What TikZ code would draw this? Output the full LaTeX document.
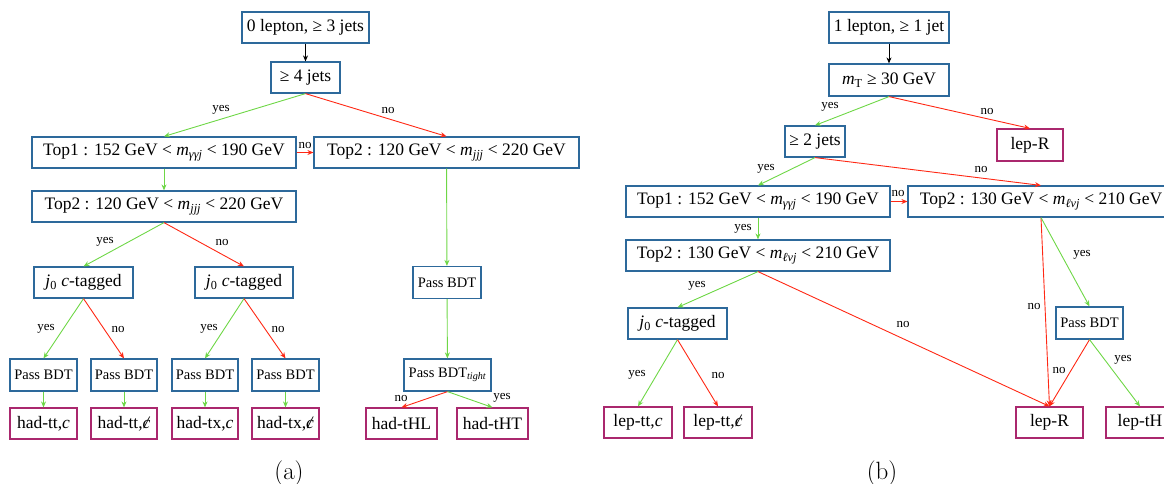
\documentclass[tikz,border=0pt]{standalone}
\usepackage{fontspec}
\usetikzlibrary{arrows.meta}
\newfontfamily\tnr{Liberation Serif}
\definecolor{boxblue}{RGB}{45,105,155}
\definecolor{finmag}{RGB}{170,40,110}
\definecolor{arrgreen}{RGB}{110,215,70}
\definecolor{arrred}{RGB}{255,40,20}
\newcommand\myCslash{\ooalign{\itshape c\cr\hidewidth\itshape /\hidewidth\cr}}
\tikzset{
  box/.style={draw=boxblue, line width=1.2pt, fill=white, inner sep=0pt,
    minimum height=31pt, text=black, font=\tnr\fontsize{17.5}{20}\selectfont},
  bdt/.style={box, minimum height=32pt, font=\tnr\fontsize{14.5}{17}\selectfont},
  fin/.style={box, draw=finmag},
  lbl/.style={inner sep=0pt, text=black, font=\tnr\fontsize{13}{15}\selectfont},
  captext/.style={inner sep=0pt, font=\fontsize{25}{29}\selectfont},
  arrtip/.style={-{Stealth[length=6pt,width=5pt]}},
  ya/.style={draw=arrgreen, line width=0.9pt, arrtip},
  na/.style={draw=arrred, line width=0.9pt, arrtip},
  ba/.style={draw=black, line width=0.9pt, arrtip}
}
\begin{document}
\begin{tikzpicture}[x=1pt,y=-1pt]
\useasboundingbox (0,0) rectangle (1164,483);
\clip (0,0) rectangle (1164,483);
% ---------------- panel (a) ----------------
\node[box, minimum width=127pt] (a0) at (305.5,27.5) {0 lepton, ≥ 3 jets};
\node[box, minimum width=69pt] (a1) at (305.5,77.5) {≥ 4 jets};
\node[box, minimum width=264pt] (a2) at (164,152.5) {Top1 : 152 GeV < {\itshape m}\textsubscript{\itshape γγj} < 190 GeV};
\node[box, minimum width=265pt] (a3) at (446.5,152.5) {Top2 : 120 GeV < {\itshape m}\textsubscript{\itshape jjj} < 220 GeV};
\node[box, minimum width=264pt] (a4) at (164,206.5) {Top2 : 120 GeV < {\itshape m}\textsubscript{\itshape jjj} < 220 GeV};
\node[box, minimum width=99pt] (a5) at (83.5,282.5) {{\itshape j}\textsubscript{0} {\itshape c}-tagged};
\node[box, minimum width=98pt] (a6) at (244,282.5) {{\itshape j}\textsubscript{0} {\itshape c}-tagged};
\node[bdt, minimum width=67pt] (p1) at (43.5,375) {Pass BDT};
\node[bdt, minimum width=66pt] (p2) at (124,375) {Pass BDT};
\node[bdt, minimum width=66pt] (p3) at (205,375) {Pass BDT};
\node[bdt, minimum width=67pt] (p4) at (285.5,375) {Pass BDT};
\node[fin, minimum width=67pt] (f1) at (43.5,423.5) {had-tt,{\itshape c}};
\node[fin, minimum width=66pt] (f2) at (124,423.5) {had-tt,\myCslash};
\node[fin, minimum width=66pt] (f3) at (205,423.5) {had-tx,{\itshape c}};
\node[fin, minimum width=67pt] (f4) at (285.5,423.5) {had-tx,\myCslash};
\node[bdt, minimum width=68pt] (a7) at (447,282.5) {Pass BDT};
\node[bdt, minimum width=87pt] (a8) at (447.5,375) {Pass BDT\textsubscript{\itshape tight}};
\node[fin, minimum width=71pt] (tHL) at (401.5,423.5) {had-tHL};
\node[fin, minimum width=71pt] (tHT) at (492.5,423.5) {had-tHT};

\draw[ba] (a0) -- (a1);
\draw[ya] (a1.south) -- (a2.north);
\draw[na] (a1.south) -- (a3.north);
\draw[na] (a2.east) -- (a3.west);
\draw[ya] (a2) -- (a4);
\draw[ya] (a4.south) -- (a5.north);
\draw[na] (a4.south) -- (a6.north);
\draw[ya] (a5.south) -- (p1.north);
\draw[na] (a5.south) -- (p2.north);
\draw[ya] (a6.south) -- (p3.north);
\draw[na] (a6.south) -- (p4.north);
\draw[ya] (p1) -- (f1);
\draw[ya] (p2) -- (f2);
\draw[ya] (p3) -- (f3);
\draw[ya] (p4) -- (f4);
\draw[ya] (a3) -- (a7);
\draw[ya] (a7) -- (a8);
\draw[na] (a8.south) -- (tHL.north);
\draw[ya] (a8.south) -- (tHT.north);

\node[lbl] (la1) at (221,110) {yes};
\node[lbl] (la2) at (388,110) {no};
\node[lbl] (la3) at (305,145) {no};
\node[lbl] (la4) at (105,242) {yes};
\node[lbl] (la5) at (222,242) {no};
\node[lbl] (la6) at (46,329) {yes};
\node[lbl] (la7) at (118,329) {no};
\node[lbl] (la8) at (209,329) {yes};
\node[lbl] (la9) at (278,329) {no};
\node[lbl] (la10) at (401,398) {no};
\node[lbl] (la11) at (502,398) {yes};

\node[captext] (capa) at (289,473) {(a)};

% ---------------- panel (b) ----------------
\node[box, minimum width=120pt] (b0) at (889,27.5) {1 lepton, ≥ 1 jet};
\node[box, minimum width=120pt, minimum height=32pt] (b1) at (889,80) {{\itshape m}\textsubscript{T} ≥ 30 GeV};
\node[box, minimum width=60pt] (b2) at (815,141.5) {≥ 2 jets};
\node[fin, minimum width=66pt, minimum height=32pt] (r1) at (1030,145) {lep-R};
\node[box, minimum width=264pt] (b3) at (758,201.5) {Top1 : 152 GeV < {\itshape m}\textsubscript{\itshape γγj} < 190 GeV};
\node[box, minimum width=266pt] (b4) at (1041,201.5) {Top2 : 130 GeV < {\itshape m}\textsubscript{\itshape ℓνj} < 210 GeV};
\node[box, minimum width=264pt] (b5) at (758,255.5) {Top2 : 130 GeV < {\itshape m}\textsubscript{\itshape ℓνj} < 210 GeV};
\node[box, minimum width=99pt] (b6) at (677.5,323.5) {{\itshape j}\textsubscript{0} {\itshape c}-tagged};
\node[fin, minimum width=68pt] (l1) at (638,422.5) {lep-tt,{\itshape c}};
\node[fin, minimum width=68pt] (l2) at (718,422.5) {lep-tt,\myCslash};
\node[bdt, minimum width=67pt] (b7) at (1089.5,323) {Pass BDT};
\node[fin, minimum width=67pt] (r2) at (1049.5,422.5) {lep-R};
\node[fin, minimum width=68pt] (tH) at (1140,422.5) {lep-tH};

\draw[ba] (b0) -- (b1);
\draw[ya] (b1.south) -- (b2.north);
\draw[na] (b1.south) -- (r1.north);
\draw[ya] (b2.south) -- (b3.north);
\draw[na] (b2.south) -- (b4.north);
\draw[na] (b3.east) -- (b4.west);
\draw[ya] (b3) -- (b5);
\draw[ya] (b5.south) -- (b6.north);
\draw[na] (b5.south) -- (r2.north);
\draw[ya] (b6.south) -- (l1.north);
\draw[na] (b6.south) -- (l2.north);
\draw[na] (b4.south) -- (r2.north);
\draw[ya] (b4.south) -- (b7.north);
\draw[na] (b7.south) -- (r2.north);
\draw[ya] (b7.south) -- (tH.north);

\node[lbl] (lb1) at (830,107) {yes};
\node[lbl] (lb2) at (987,111) {no};
\node[lbl] (lb3) at (766,169) {yes};
\node[lbl] (lb4) at (981,169) {no};
\node[lbl] (lb5) at (898,193) {no};
\node[lbl] (lb6) at (743,229) {yes};
\node[lbl] (lb7) at (697,286) {yes};
\node[lbl] (lb8) at (903,324) {no};
\node[lbl] (lb9) at (637,375) {yes};
\node[lbl] (lb10) at (718,375) {no};
\node[lbl] (lb11) at (1034,306) {no};
\node[lbl] (lb12) at (1082,255) {yes};
\node[lbl] (lb13) at (1059,370) {no};
\node[lbl] (lb14) at (1123,360) {yes};

\node[captext] (capb) at (882,473) {(b)};
\end{tikzpicture}
\end{document}
